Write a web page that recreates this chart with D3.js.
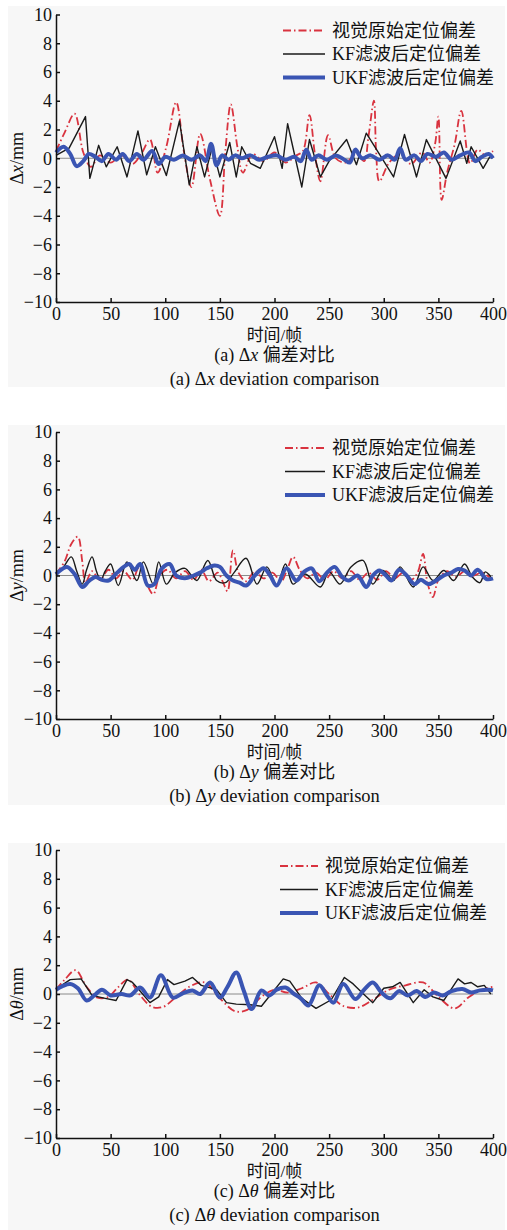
<!DOCTYPE html>
<html>
<head>
<meta charset="utf-8">
<script src="https://cdn.jsdelivr.net/npm/d3@7"></script>
<style>
  body { margin: 0; background: #fff; }
  svg { display: block; font-family: "Liberation Serif", "Times New Roman", "Noto Sans CJK SC", serif; }
</style>
</head>
<body>
<svg id="chart" width="507" height="1230"></svg>
<script>
// Shared axis ticks and legend names.
const xTicks = [0, 50, 100, 150, 200, 250, 300, 350, 400];
const yTicks = [-10, -8, -6, -4, -2, 0, 2, 4, 6, 8, 10];
const legendNames = ["视觉原始定位偏差", "KF滤波后定位偏差", "UKF滤波后定位偏差"];

// Panel (a) dx: [frame, deviation in mm].
const dxRaw = [[0,0.5],[8,1.8],[17,3.1],[25,0.4],[32,-0.6],[40,0.2],[50,-0.3],[60,0.2],[70,-0.4],[78,0.3],[86,1.3],[93,-1.0],[101,0.8],[110,3.9],[117,0.5],[124,-2.0],[132,1.7],[141,-1.5],[150,-4.0],[155,0.5],[160,3.75],[166,0.8],[171,-1.0],[180,0.3],[190,-0.2],[200,0.4],[210,-0.3],[220,0.2],[226,0.5],[232,3.0],[237,0.3],[242,-1.6],[249,1.6],[256,0],[265,-0.3],[275,0.3],[282,-0.2],[286,1.5],[291,4.0],[293,0.5],[296,-1.6],[305,-0.3],[315,0.3],[325,-0.4],[335,0.4],[342,-0.3],[347,1.0],[350,2.9],[353,-2.9],[358,-1.0],[365,1.0],[371,3.3],[379,-0.35],[386,0.6],[393,0.2],[400,0.5]];
const dxKF = [[0,0.2],[12,0.7],[27,2.9],[31,-1.4],[39,0.9],[46,-0.6],[56,0.8],[65,-1.3],[75,1.9],[83,-1.15],[91,0.8],[101,-1.2],[113,2.6],[122,-1.85],[129,0.8],[136,-1.3],[143,0.8],[150,-1.3],[159,1.1],[165,-1.3],[170,0.8],[178,-0.35],[187,-0.7],[200,1.5],[207,-0.7],[212,2.4],[225,-2.0],[232,1.3],[242,-1.3],[250,-0.2],[266,1.3],[275,-0.45],[284,1.75],[309,-1.3],[319,1.65],[330,-1.3],[339,1.3],[357,-1.4],[370,1.2],[376,-0.35],[380,0.8],[391,-0.7],[397,0.1]];
const dxUKF = [[0,0.4],[7,0.8],[13,0.3],[19,-0.55],[25,-0.2],[30,0.3],[36,0.1],[42,-0.2],[48,0.3],[55,-0.1],[61,0.3],[67,-0.2],[74,0.3],[80,-0.1],[88,0.5],[94,-0.4],[100,0.1],[108,-0.1],[116,0.2],[124,-0.1],[132,0.2],[137,-0.2],[142,1.0],[147,-0.5],[152,0.2],[158,-0.1],[164,0.2],[170,0.0],[178,0.2],[186,-0.1],[194,0.1],[202,0.2],[210,-0.1],[218,0.1],[224,-0.2],[229,0.6],[234,-0.1],[240,0.2],[248,-0.1],[256,0.2],[264,-0.1],[269,-0.3],[274,0.6],[280,0.0],[288,0.2],[296,-0.1],[304,0.2],[310,-0.1],[315,0.7],[320,-0.1],[328,0.2],[334,-0.2],[340,0.3],[348,0.1],[355,0.4],[362,-0.1],[370,0.2],[378,0.4],[384,-0.2],[390,0.1],[396,0.3],[400,0.0]];

// Panel (b) dy.
const dyRaw = [[0,0.1],[8,1.0],[14,2.2],[20,2.7],[24,1.0],[27,-0.5],[33,0.3],[40,-0.3],[48,0.4],[55,-0.2],[62,0.3],[70,-0.3],[76,0.6],[82,-0.4],[89,-1.3],[95,0.0],[102,0.4],[110,-0.2],[118,0.3],[126,-0.3],[133,0.4],[140,-0.4],[148,0.2],[153,-0.5],[157,-1.1],[162,1.75],[167,0.2],[174,-0.4],[182,0.3],[190,-0.2],[198,0.2],[206,-0.4],[212,0.5],[217,1.3],[223,0.4],[230,-0.2],[238,0.2],[246,-0.3],[254,0.3],[262,-0.2],[270,0.3],[278,-0.3],[286,0.2],[294,-0.3],[302,0.3],[310,-0.2],[318,0.2],[325,-0.3],[331,0.2],[336,1.5],[340,-0.5],[345,-1.5],[350,-0.3],[358,0.3],[366,-0.1],[374,0.3],[382,0.0],[390,0.2],[398,-0.2]];
const dyKF = [[0,0.0],[7,0.6],[14,1.3],[19,0.3],[24,-0.6],[28,0.4],[33,1.3],[37,0.3],[41,-0.35],[45,0.3],[50,0.8],[57,-0.7],[65,0.95],[74,-0.35],[80,0.95],[89,-0.6],[94,0.95],[101,-0.6],[109,0.2],[118,0.5],[124,0.0],[129,-0.35],[139,1.05],[147,-0.35],[155,-0.5],[163,0.2],[174,1.2],[184,-0.6],[193,0.6],[202,-0.7],[210,0.8],[217,-0.6],[228,0.1],[242,-0.8],[250,0.25],[260,-0.6],[270,0.6],[281,1.05],[290,-0.6],[299,0.35],[309,-0.35],[315,0.6],[327,-0.8],[336,0.6],[345,-0.35],[355,0.35],[364,-0.35],[374,0.8],[381,-0.1],[388,-0.5],[393,0.25],[398,-0.1]];
const dyUKF = [[0,0.1],[10,0.6],[17,0.1],[24,-0.8],[30,-0.4],[36,-0.1],[42,-0.3],[48,-0.35],[56,0.2],[62,0.6],[67,0.8],[72,0.4],[77,0.8],[84,-0.7],[90,-0.6],[97,0.5],[104,0.8],[110,0.0],[118,-0.2],[126,0.0],[132,0.2],[138,0.5],[145,0.7],[150,0.6],[156,0.0],[162,-0.35],[168,-0.5],[174,-0.7],[182,0.0],[190,0.5],[196,0.0],[202,-0.7],[211,0.5],[220,-0.35],[227,0.25],[234,0.5],[241,-0.4],[248,0.2],[255,0.6],[262,-0.1],[268,-0.35],[276,0.0],[284,-0.8],[290,0.0],[296,0.35],[302,0.0],[307,-0.35],[314,0.4],[321,0.0],[328,-0.6],[334,-0.3],[341,-0.6],[348,-0.35],[355,0.0],[362,0.2],[368,0.45],[374,0.35],[380,0.0],[386,0.4],[394,-0.25],[400,-0.2]];

// Panel (c) dtheta.
const dtRaw = [[0,0.3],[8,1.0],[18,1.65],[28,0.5],[38,-0.25],[48,-0.2],[56,0.4],[66,1.0],[76,0.0],[88,-0.9],[98,-0.9],[110,-0.2],[122,0.5],[136,0.8],[150,-0.3],[164,-1.2],[175,-1.1],[188,-0.2],[200,0.3],[212,0.1],[225,0.4],[238,0.8],[250,0.0],[262,-0.8],[276,-0.95],[290,-0.4],[305,0.3],[320,0.6],[336,0.8],[350,-0.2],[365,-1.0],[378,-0.2],[390,0.3],[400,0.5]];
const dtKF = [[0,0.35],[13,1.0],[23,1.05],[33,-0.1],[45,-0.3],[55,-0.45],[65,1.0],[70,0.8],[76,0.3],[86,-0.6],[94,-0.2],[102,1.0],[108,0.65],[118,0.9],[125,1.15],[133,0.6],[147,0.3],[156,-0.6],[165,-0.7],[178,-0.75],[188,-0.85],[208,1.05],[214,0.9],[225,-0.3],[238,-1.0],[252,-0.4],[264,1.15],[272,0.7],[280,0.1],[290,-0.6],[300,0.4],[308,0.5],[315,0.8],[327,-0.6],[337,0.3],[345,-0.2],[355,-0.45],[368,1.05],[374,0.7],[380,0.8],[386,0.5],[392,0.6],[398,0.0]];
const dtUKF = [[0,0.3],[6,0.55],[13,0.7],[20,0.4],[28,-0.45],[35,-0.1],[42,0.3],[50,-0.1],[60,0.0],[68,-0.1],[77,0.45],[86,-0.25],[96,1.3],[107,-0.25],[116,0.05],[125,0.25],[132,0.0],[141,0.8],[150,-0.25],[157,0.5],[165,1.5],[172,0.2],[179,-1.05],[188,0.25],[195,-0.1],[202,0.3],[210,0.45],[218,0.0],[224,-0.3],[231,-0.8],[241,0.6],[248,-0.1],[254,-0.6],[263,0.7],[274,-0.35],[282,0.3],[290,0.8],[298,0.1],[306,-0.3],[314,0.2],[322,-0.1],[330,0.2],[338,-0.2],[346,0.1],[354,-0.1],[362,0.2],[372,0.35],[380,0.1],[388,0.25],[396,0.3],[400,0.25]];

// Layout of the three stacked panels.
const plotLeft = 56, plotRight = 493;
const panels = [
  { top: 14.5, bottom: 302, bg: [6, 387], legendX: 283, legendLen: 42, tag: "a", sym: "x",
    series: [dxRaw, dxKF, dxUKF], kfCurve: d3.curveLinear },
  { top: 432, bottom: 719, bg: [425, 805], legendX: 285, legendLen: 40, tag: "b", sym: "y",
    series: [dyRaw, dyKF, dyUKF], kfCurve: d3.curveCatmullRom },
  { top: 850, bottom: 1138, bg: [843, 1230], legendX: 280, legendLen: 38, tag: "c", sym: "θ",
    series: [dtRaw, dtKF, dtUKF], kfCurve: d3.curveLinear }
];

const colors = ["#d9333f", "#1a1a1a", "#3a55b3"];
const widths = [1.8, 1.4, 4];
const dashes = ["8,3,1.5,3", null, null];

let svg = d3.select("#chart");

let x = d3.scaleLinear().domain([0, 400]).range([plotLeft, plotRight]);

panels.forEach(function (p) {
  let y = d3.scaleLinear().domain([-10, 10]).range([p.bottom, p.top]);

  // Light grey card behind each panel.
  svg.append("rect")
    .attr("x", 8).attr("y", p.bg[0])
    .attr("width", 497).attr("height", p.bg[1] - p.bg[0])
    .attr("fill", "#f7f7f7");

  // Zero reference line.
  svg.append("line")
    .attr("x1", x(0)).attr("x2", x(400))
    .attr("y1", y(0)).attr("y2", y(0))
    .attr("stroke", "#8a8a8a").attr("stroke-width", 1);

  // Series: raw (dash-dot), KF, UKF.
  p.series.forEach(function (pts, i) {
    let curve = i === 1 ? p.kfCurve : d3.curveCatmullRom;
    let line = d3.line()
      .x(function (d) { return x(d[0]); })
      .y(function (d) { return y(d[1]); })
      .curve(curve);
    svg.append("path")
      .datum(pts)
      .attr("d", line)
      .attr("fill", "none")
      .attr("stroke", colors[i])
      .attr("stroke-width", widths[i])
      .attr("stroke-linejoin", "round")
      .attr("stroke-dasharray", dashes[i]);
  });

  // Axes: ticks point inward, no box.
  let yAxis = svg.append("g")
    .attr("transform", "translate(" + plotLeft + ",0)")
    .call(d3.axisLeft(y).tickValues(yTicks).tickSizeInner(-4).tickSizeOuter(0).tickPadding(4));
  let xAxis = svg.append("g")
    .attr("transform", "translate(0," + p.bottom + ")")
    .call(d3.axisBottom(x).tickValues(xTicks).tickSizeInner(-4).tickSizeOuter(0).tickPadding(5));
  [yAxis, xAxis].forEach(function (a) {
    a.select(".domain").attr("stroke", "#111").attr("stroke-width", 1.5);
    a.selectAll(".tick line").attr("stroke", "#111").attr("stroke-width", 1.5);
    a.selectAll("text").attr("font-size", 18).attr("fill", "#111")
      .attr("font-family", "Liberation Serif, serif");
  });

  // Y axis title, rotated.
  let yl = svg.append("text")
    .attr("transform", "translate(23," + y(0) + ") rotate(-90)")
    .attr("text-anchor", "middle")
    .attr("font-size", 18).attr("fill", "#111");
  yl.append("tspan").text("Δ");
  yl.append("tspan").attr("font-style", "italic").text(p.sym);
  yl.append("tspan").text("/mm");

  let cx = (plotLeft + plotRight) / 2;

  svg.append("text")
    .attr("x", cx).attr("y", p.bottom + 39)
    .attr("text-anchor", "middle")
    .attr("font-size", 17).attr("fill", "#111")
    .text("时间/帧");

  let c1 = svg.append("text")
    .attr("x", cx).attr("y", p.bottom + 59)
    .attr("text-anchor", "middle")
    .attr("font-size", 18).attr("fill", "#111");
  c1.append("tspan").text("(" + p.tag + ") Δ");
  c1.append("tspan").attr("font-style", "italic").text(p.sym);
  c1.append("tspan").text(" 偏差对比");

  let c2 = svg.append("text")
    .attr("x", cx).attr("y", p.bottom + 83)
    .attr("text-anchor", "middle")
    .attr("font-size", 18.5).attr("fill", "#111");
  c2.append("tspan").text("(" + p.tag + ") Δ");
  c2.append("tspan").attr("font-style", "italic").text(p.sym);
  c2.append("tspan").text(" deviation comparison");

  // Legend.
  legendNames.forEach(function (name, i) {
    let ly = p.top + 16 + i * 23.5;
    svg.append("line")
      .attr("x1", p.legendX).attr("x2", p.legendX + p.legendLen)
      .attr("y1", ly).attr("y2", ly)
      .attr("stroke", colors[i])
      .attr("stroke-width", widths[i])
      .attr("stroke-dasharray", dashes[i]);
    svg.append("text")
      .attr("x", p.legendX + p.legendLen + 7).attr("y", ly)
      .attr("dy", "0.35em")
      .attr("font-size", 18).attr("fill", "#111")
      .text(name);
  });
});
</script>
</body>
</html>
